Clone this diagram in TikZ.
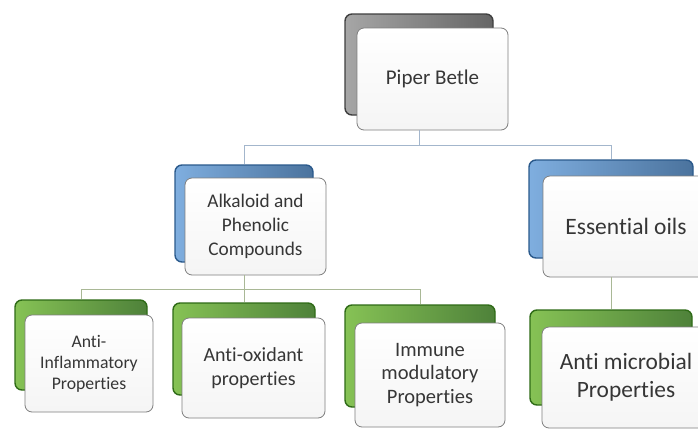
\documentclass[tikz,border=0pt]{standalone}
\usepackage{fontspec}
\setmainfont[Ligatures={NoCommon},Contextuals={NoAlternate}]{Carlito}
\definecolor{txt}{HTML}{363636}
\definecolor{grayL}{HTML}{A6A6A6}\definecolor{grayD}{HTML}{3F3F3F}
\definecolor{blueL}{HTML}{7FAEDF}\definecolor{blueD}{HTML}{2B5A8C}
\definecolor{greenL}{HTML}{86C255}\definecolor{greenD}{HTML}{2F6B17}
\definecolor{frontB}{HTML}{7F7F7F}
\definecolor{lineTop}{HTML}{A3B6CC}
\definecolor{lineBot}{HTML}{A9B896}
\begin{document}
\begin{tikzpicture}[x=1pt,y=-1pt,
  tab/.style={rounded corners=7pt,line width=1.4pt,inner sep=0pt},
  graytab/.style={tab,draw=grayD,left color=grayL,right color=grayD!80},
  bluetab/.style={tab,draw=blueD,left color=blueL,right color=blueD!85},
  greentab/.style={tab,draw=greenD,left color=greenL,right color=greenD!85},
  front/.style={rounded corners=7pt,draw=frontB,line width=0.8pt,top color=white,bottom color=black!4,
    inner sep=0pt,align=center,text=txt},
  conTop/.style={draw=lineTop,line width=0.9pt},
  conBot/.style={draw=lineBot,line width=0.9pt}]
\clip (0,0) rectangle (698,431);
\fill[white] (0,0) rectangle (698,431);
% level 1
\node[graytab,minimum width=148pt,minimum height=101pt] (pb) at (419,64.5) {};
\node[front,minimum width=151pt,minimum height=102pt,font=\fontsize{21}{25}\selectfont] (pf) at (432.5,79) {Piper Betle};
% level 2
\node[bluetab,minimum width=138pt,minimum height=97pt] (ab) at (244,213.5) {};
\node[front,minimum width=141pt,minimum height=97pt,font=\fontsize{19.3}{24}\selectfont] (af) at (255.5,226.5) {Alkaloid and\\Phenolic\\Compounds};
\node[bluetab,minimum width=164pt,minimum height=98pt] (eb) at (611,209) {};
\node[front,minimum width=166pt,minimum height=101pt,font=\fontsize{23.5}{28}\selectfont] (ef) at (626,226.5) {Essential oils};
% level 3
\node[greentab,minimum width=132pt,minimum height=90pt] (g1b) at (81,345) {};
\node[front,minimum width=128pt,minimum height=97pt,font=\fontsize{17.7}{21}\selectfont] (g1f) at (89,363.5) {Anti-\\Inflammatory\\Properties};
\node[greentab,minimum width=142pt,minimum height=92pt] (g2b) at (244,349) {};
\node[front,minimum width=143pt,minimum height=100pt,font=\fontsize{20}{24}\selectfont] (g2f) at (253.5,368) {Anti-oxidant\\properties};
\node[greentab,minimum width=150pt,minimum height=102pt] (g3b) at (420,356) {};
\node[front,minimum width=150pt,minimum height=104pt,font=\fontsize{20.5}{23.5}\selectfont] (g3f) at (430,375) {Immune\\modulatory\\Properties};
\node[greentab,minimum width=162pt,minimum height=95pt] (g4b) at (611,357.5) {};
\node[front,minimum width=168pt,minimum height=101pt,font=\fontsize{23.4}{28}\selectfont] (g4f) at (626,377.5) {Anti microbial\\Properties};
% connectors top
\coordinate (j1) at (419,145);
\draw[conTop] (pf.south -| j1) -- (j1);
\draw[conTop] (ab.north |- j1) -- (eb.north |- j1);
\draw[conTop] (ab.north |- j1) -- (ab.north);
\draw[conTop] (eb.north |- j1) -- (eb.north);
% connectors bottom
\coordinate (j2) at (244,289);
\draw[conBot] (af.south -| j2) -- (j2);
\draw[conBot] (g1b.north |- j2) -- (g3b.north |- j2);
\draw[conBot] (g1b.north |- j2) -- (g1b.north);
\draw[conBot] (g2b.north |- j2) -- (g2b.north);
\draw[conBot] (g3b.north |- j2) -- (g3b.north);
\draw[conBot] (ef.south -| eb) -- (g4b.north);
\end{tikzpicture}
\end{document}
